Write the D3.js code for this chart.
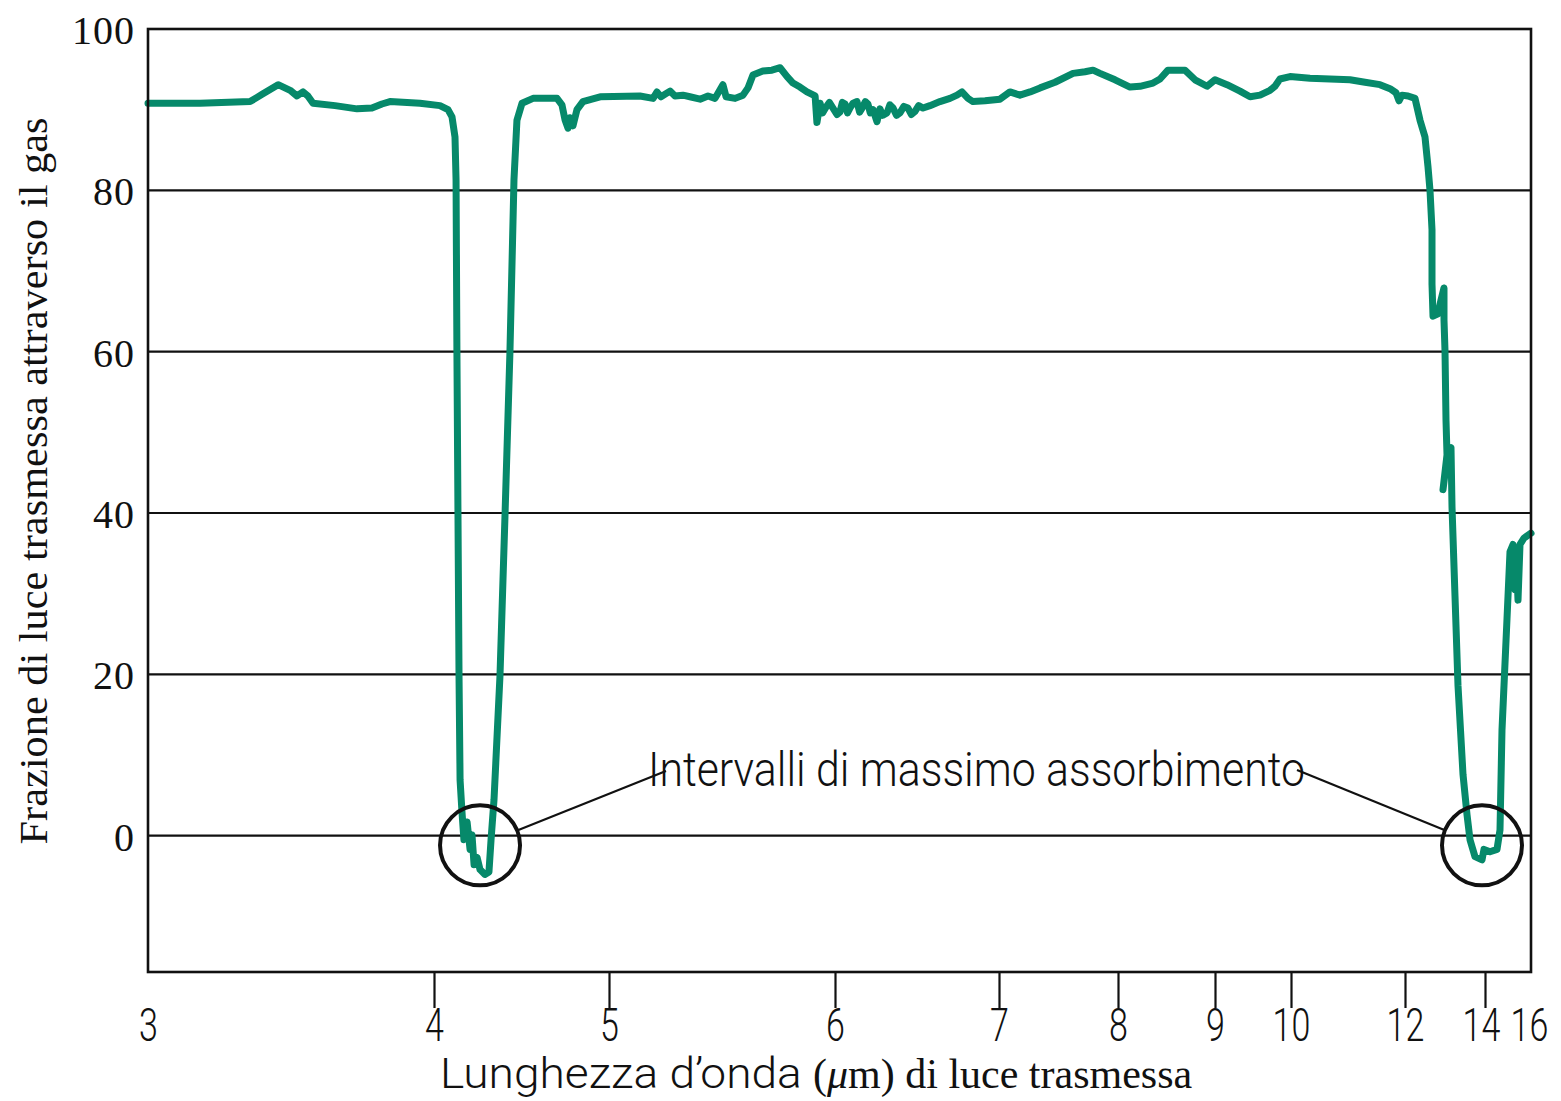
<!DOCTYPE html>
<html>
<head>
<meta charset="utf-8">
<script src="https://cdn.jsdelivr.net/npm/d3@7"></script>
<style>
  html, body { margin: 0; padding: 0; background: #ffffff; }
  svg { display: block; }
</style>
</head>
<body>
<svg id="chart" width="1561" height="1101"></svg>
<script>
// Infrared transmission spectrum of the gas: [wavelength (µm), transmitted fraction (%)]
const spectrum = [
  [3.000, 90.8], [3.182, 90.8], [3.357, 91.0], [3.399, 91.9], [3.455, 93.1],
  [3.497, 92.4], [3.521, 91.7], [3.542, 92.2], [3.559, 91.7], [3.577, 90.8],
  [3.654, 90.5], [3.731, 90.1], [3.783, 90.2], [3.818, 90.7], [3.846, 91.0],
  [3.951, 90.8], [4.034, 90.5], [4.080, 90.0], [4.103, 89.1], [4.120, 86.6],
  // first absorption band
  [4.126, 81.3], [4.131, 60.0], [4.137, 39.9], [4.143, 19.8], [4.149, 6.9],
  [4.160, 2.9], [4.171, -0.5], [4.189, 1.7], [4.206, -1.7], [4.217, 0.1],
  [4.229, -3.6], [4.246, -2.7], [4.263, -4.2], [4.291, -4.8], [4.314, -4.5],
  [4.326, -0.5], [4.343, 4.5], [4.377, 19.8], [4.406, 39.9], [4.434, 60.0],
  [4.457, 81.3], [4.474, 88.7], [4.503, 90.8], [4.566, 91.4], [4.703, 91.4],
  [4.731, 90.6], [4.749, 88.7], [4.766, 87.7], [4.777, 89.0], [4.794, 88.0],
  [4.817, 90.0], [4.851, 91.0], [4.949, 91.6],
  // plateau
  [5.137, 91.7], [5.195, 91.4], [5.212, 92.2], [5.230, 91.6], [5.270, 92.3],
  [5.292, 91.7], [5.327, 91.8], [5.358, 91.6], [5.403, 91.3], [5.438, 91.7],
  [5.469, 91.4], [5.504, 93.1], [5.518, 91.6], [5.558, 91.4], [5.593, 91.8],
  [5.615, 92.7], [5.637, 94.3], [5.681, 94.8], [5.721, 94.9], [5.757, 95.2],
  [5.788, 94.1], [5.814, 93.3], [5.845, 92.8], [5.876, 92.2], [5.912, 91.7],
  [5.920, 88.4], [5.934, 90.8], [5.945, 89.6], [5.960, 90.3], [5.975, 90.9],
  [5.991, 90.2], [6.012, 89.4], [6.030, 89.7], [6.045, 90.9], [6.061, 90.7],
  [6.076, 89.6], [6.091, 90.2], [6.110, 90.8], [6.134, 91.0], [6.150, 89.7],
  [6.165, 90.2], [6.185, 91.0], [6.201, 90.7], [6.215, 89.6], [6.232, 90.0],
  [6.256, 88.5], [6.274, 90.1], [6.290, 89.3], [6.317, 89.6], [6.335, 90.6],
  [6.354, 90.2], [6.375, 89.3], [6.396, 89.6], [6.420, 90.4], [6.445, 90.2],
  [6.466, 89.4], [6.488, 89.8], [6.510, 90.5], [6.537, 90.2], [6.579, 90.5],
  [6.640, 91.0], [6.701, 91.4], [6.744, 91.8], [6.774, 92.2], [6.811, 91.4],
  [6.841, 91.0], [6.915, 91.1], [7.008, 91.3], [7.092, 92.2], [7.176, 91.8],
  [7.261, 92.2], [7.345, 92.7], [7.471, 93.4], [7.622, 94.5], [7.723, 94.7],
  [7.790, 94.9], [7.849, 94.5], [7.975, 93.7], [8.124, 92.8], [8.227, 92.9],
  [8.361, 93.3], [8.433, 93.8], [8.515, 94.9], [8.619, 94.9], [8.691, 94.9],
  [8.794, 93.7], [8.918, 92.9], [9.000, 93.7], [9.158, 93.1], [9.329, 92.3],
  [9.461, 91.6], [9.592, 91.8], [9.724, 92.4], [9.789, 92.9], [9.855, 93.8],
  [9.987, 94.1], [10.333, 93.9], [10.684, 93.8], [11.035, 93.7], [11.298, 93.4],
  [11.561, 93.1], [11.737, 92.6], [11.842, 92.1], [11.895, 91.1], [11.947, 91.8],
  [12.075, 91.7], [12.250, 91.4], [12.375, 88.7], [12.500, 86.6], [12.575, 82.9],
  // second absorption band
  [12.625, 80.0], [12.675, 75.1], [12.675, 68.4], [12.700, 64.4], [12.825, 64.7],
  [12.900, 66.4], [12.975, 67.9], [12.975, 63.9], [13.000, 60.1], [13.025, 51.5],
  [13.050, 47.2], [12.950, 42.9], [13.075, 47.8], [13.150, 48.1], [13.175, 40.8],
  [13.250, 29.7], [13.325, 18.6], [13.450, 7.6], [13.550, 2.6], [13.625, -0.5],
  [13.750, -2.6], [13.925, -3.0], [13.975, -1.7], [14.217, -2.0], [14.522, -1.7],
  [14.652, 0.7], [14.739, 13.1], [14.957, 26.9], [15.087, 35.2], [15.217, 36.1],
  [15.304, 30.5], [15.348, 35.6], [15.435, 29.2], [15.522, 36.1], [15.696, 36.9],
  [16.000, 37.5]
];

// Axis ticks
const xTickValues = [3, 4, 5, 6, 7, 8, 9, 10, 12, 14, 16];
const yTickValues = [0, 20, 40, 60, 80, 100];
const gridValues = [0, 20, 40, 60, 80];

// The two absorption bands picked out by the annotation
const bandCenters = [4.263, 13.925];
const bandLevel = -1.2;

const annotationText = "Intervalli di massimo assorbimento";
const xTitleSans = "Lunghezza d\u2019onda ";
const xTitleSerif = ["(", "\u03BC", "m) di luce trasmessa"];
const yTitle = "Frazione di luce trasmessa attraverso il gas";

// ---- layout ----
const plotL = 148, plotR = 1531, plotT = 29, plotB = 972;
// The wavelength axis is non-uniform: each labelled wavelength has its own stop
const xStops = [148, 434, 609, 835, 999, 1118, 1215, 1291, 1405, 1485, 1531];

const x = d3.scaleLinear().domain(xTickValues).range(xStops);
const y = d3.scaleLinear().domain([-16.9, 100]).range([plotB, plotT]);

const svg = d3.select("#chart");
const ink = "#111111";
const teal = "#06896a";
const sans = "Roboto, 'Liberation Sans', sans-serif";
const serif = "'Liberation Serif', 'DejaVu Serif', serif";

// Horizontal grid
svg.append("g")
  .selectAll("line")
  .data(gridValues)
  .join("line")
  .attr("x1", plotL).attr("x2", plotR)
  .attr("y1", d => y(d)).attr("y2", d => y(d))
  .attr("stroke", ink).attr("stroke-width", 2.2);

// Spectrum trace
const line = d3.line()
  .x(d => x(d[0]))
  .y(d => y(d[1]));
svg.append("path")
  .datum(spectrum)
  .attr("d", line)
  .attr("fill", "none")
  .attr("stroke", teal)
  .attr("stroke-width", 7)
  .attr("stroke-linejoin", "round")
  .attr("stroke-linecap", "round");

// Plot frame
svg.append("rect")
  .attr("x", plotL).attr("y", plotT)
  .attr("width", plotR - plotL).attr("height", plotB - plotT)
  .attr("fill", "none").attr("stroke", ink).attr("stroke-width", 2.6);

// X axis
const xAxis = d3.axisBottom(x)
  .tickValues(xTickValues)
  .tickFormat(d3.format("d"))
  .tickSize(36)
  .tickPadding(0);
const gx = svg.append("g")
  .attr("transform", `translate(0,${plotB})`)
  .call(xAxis);
gx.select(".domain").remove();
gx.selectAll(".tick line")
  .attr("stroke", ink).attr("stroke-width", 2.2)
  .attr("display", d => (d === 3 || d === 16) ? "none" : null);
gx.selectAll(".tick text")
  .attr("fill", ink)
  .attr("transform", d => `translate(${d === 14 ? -4 : (d === 16 ? -2 : 0)},0) scale(0.74,1)`)
  .style("font-family", sans)
  .style("font-size", "46px")
  .style("font-weight", 300);

// Y axis labels
const yAxis = d3.axisLeft(y)
  .tickValues(yTickValues)
  .tickSize(0)
  .tickPadding(13);
const gy = svg.append("g")
  .attr("transform", `translate(${plotL},0)`)
  .call(yAxis);
gy.select(".domain").remove();
gy.selectAll(".tick text")
  .attr("fill", ink)
  .attr("dy", "0.36em")
  .style("font-family", serif)
  .style("font-size", "40px")
  .style("letter-spacing", "1px");

// Axis titles
const xt = svg.append("text")
  .attr("x", 440).attr("y", 1088)
  .attr("fill", ink)
  .style("font-size", "42px");
xt.append("tspan")
  .style("font-family", sans)
  .style("font-weight", 300)
  .attr("textLength", 373)
  .attr("lengthAdjust", "spacingAndGlyphs")
  .text(xTitleSans);
xt.append("tspan")
  .style("font-family", serif)
  .text(xTitleSerif[0]);
xt.append("tspan")
  .style("font-family", serif)
  .style("font-style", "italic")
  .text(xTitleSerif[1]);
xt.append("tspan")
  .style("font-family", serif)
  .text(xTitleSerif[2]);

svg.append("text")
  .attr("transform", "translate(47,481) rotate(-90)")
  .attr("text-anchor", "middle")
  .attr("fill", ink)
  .attr("textLength", 727)
  .attr("lengthAdjust", "spacingAndGlyphs")
  .style("font-family", serif)
  .style("font-size", "40px")
  .text(yTitle);

// Annotation: circled bands with leader lines to the caption
const ringR = 40;
svg.append("g")
  .selectAll("circle")
  .data(bandCenters)
  .join("circle")
  .attr("cx", d => x(d)).attr("cy", y(bandLevel))
  .attr("r", ringR)
  .attr("fill", "none").attr("stroke", ink).attr("stroke-width", 4);

const capX0 = 648, capX1 = 1305, capY = 786;
svg.append("text")
  .attr("x", capX0).attr("y", capY)
  .attr("fill", ink)
  .attr("textLength", capX1 - capX0)
  .attr("lengthAdjust", "spacingAndGlyphs")
  .style("font-family", sans)
  .style("font-weight", 300)
  .style("font-size", "48px")
  .text(annotationText);

const leaders = [
  { from: bandCenters[0], to: [666, 771] },
  { from: bandCenters[1], to: [1297, 770] }
];
function ringEdge(d) {
  const cx = x(d.from), cy = y(bandLevel);
  const a = Math.atan2(d.to[1] - cy, d.to[0] - cx);
  return [cx + ringR * Math.cos(a), cy + ringR * Math.sin(a)];
}
svg.append("g")
  .selectAll("line")
  .data(leaders)
  .join("line")
  .attr("x1", d => ringEdge(d)[0])
  .attr("y1", d => ringEdge(d)[1])
  .attr("x2", d => d.to[0]).attr("y2", d => d.to[1])
  .attr("stroke", ink).attr("stroke-width", 2.2);
</script>
</body>
</html>
